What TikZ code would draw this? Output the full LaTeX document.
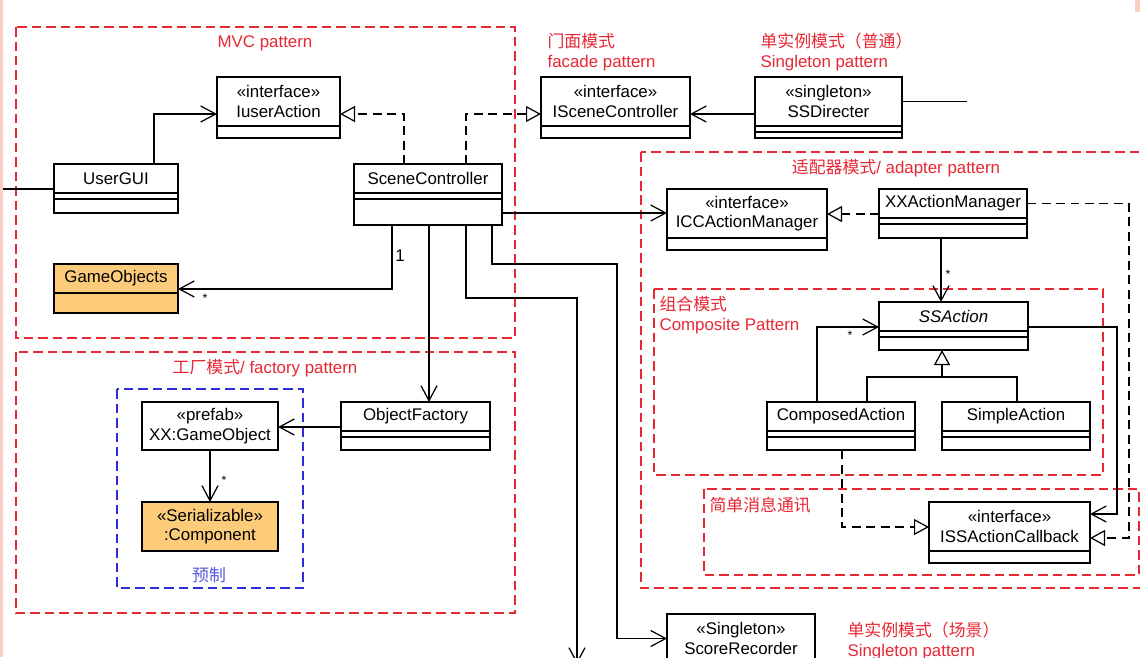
\documentclass[tikz,border=0pt]{standalone}
\usepackage{fontspec}
\setmainfont{Liberation Sans}
\newfontfamily\cjk{Noto Sans CJK SC}
\usetikzlibrary{arrows.meta, calc}
\definecolor{patred}{RGB}{232,40,52}
\definecolor{prefabblue}{RGB}{45,45,215}
\definecolor{objorange}{RGB}{252,204,122}
\definecolor{edgepink}{RGB}{250,205,195}
% extra compartment under a class name box: node, offset, height (px)
\newcommand{\umlpart}[4][white]{%
  \draw[fill=#1] ($(#2.south west)+(0,#3)$) rectangle ($(#2.south east)+(0,#3+#4)$);}

\begin{document}
\begin{tikzpicture}[x=0.02cm, y=-0.02cm, line width=0.7pt,
  every node/.style={font=\fontsize{9.6}{11}\selectfont},
  cls/.style 2 args={draw, fill=white, outer sep=0pt, inner sep=1pt, align=center, anchor=north west,
    minimum width={#1*0.02cm}, minimum height={#2*0.02cm}},
  pattern box/.style={draw=patred, line width=0.9pt, dash pattern=on 1.9mm off 1mm},
  prefab box/.style={draw=prefabblue, line width=0.9pt, dash pattern=on 1.9mm off 1mm},
  patlabel/.style={text=patred, inner sep=0pt},
  mult/.style={font=\fontsize{7}{8}\selectfont, inner sep=0pt},
  assoc/.style={-{Straight Barb[length=3mm, width=3.2mm]}},
  realize/.style={dash pattern=on 1.8mm off 1.1mm, -{Triangle[open, length=3mm, width=3.2mm, fill=white]}},
  inherit/.style={-{Triangle[open, length=3mm, width=3.2mm, fill=white]}}]

  \useasboundingbox (0,0) rectangle (1140,657);
  \fill[white] (0,0) rectangle (1140,657);
  \fill[edgepink] (0,0) rectangle (3,657);
  \fill[edgepink] (1135,0) rectangle (1140,12);

  % pattern groups
  \draw[pattern box] (16,27) rectangle (515,338);
  \draw[pattern box] (16,352) rectangle (515,613);
  \draw[prefab box] (117,389) rectangle (303,588);
  \draw[pattern box] (641,152) rectangle (1150,588);
  \draw[pattern box] (654,289) rectangle (1103,475);
  \draw[pattern box] (704,489) rectangle (1139,575);

  \node[patlabel] (mvclbl) at (265,43) {MVC pattern};
  \node[patlabel] (factorylbl) at (265,368) {{\cjk 工厂模式}/ factory pattern};
  \node[text=prefabblue!80, inner sep=0pt] (prefablbl) at (209,575) {\cjk 预制};
  \node[patlabel, anchor=west, align=left] (facadelbl) at (547,52) {{\cjk 门面模式}\\facade pattern};
  \node[patlabel, anchor=west, align=left] (singlelbl) at (760,52) {{\cjk 单实例模式（普通）}\\Singleton pattern};
  \node[patlabel] (adapterlbl) at (896,168) {{\cjk 适配器模式}/ adapter pattern};
  \node[patlabel, anchor=west, align=left] (compositelbl) at (659,315) {{\cjk 组合模式}\\Composite Pattern};
  \node[patlabel, anchor=west] (msglbl) at (709,505) {\cjk 简单消息通讯};
  \node[patlabel, anchor=west, align=left] (scenesinglbl) at (847,641) {{\cjk 单实例模式（场景）}\\Singleton pattern};

  % classes
  \node[cls={123}{49}] (iuseraction) at (217,77) {«interface»\\IuserAction};
  \umlpart{iuseraction}{0}{12}
  \node[cls={124}{29}] (usergui) at (54,164) {UserGUI};
  \umlpart{usergui}{0}{6} \umlpart{usergui}{6}{14}
  \node[cls={148}{29}] (scenectrl) at (354,164) {SceneController};
  \umlpart{scenectrl}{0}{6} \umlpart{scenectrl}{6}{26}
  \node[cls={124}{29}, fill=objorange] (gameobjects) at (54,264) {GameObjects};
  \umlpart[objorange]{gameobjects}{0}{20}
  \node[cls={149}{49}] (iscenectrl) at (541,77) {«interface»\\ISceneController};
  \umlpart{iscenectrl}{0}{12}
  \node[cls={147}{49}] (ssdirecter) at (755,77) {«singleton»\\SSDirecter};
  \umlpart{ssdirecter}{0}{6} \umlpart{ssdirecter}{6}{6}
  \node[cls={160}{49}] (iccam) at (667,189) {«interface»\\ICCActionManager};
  \umlpart{iccam}{0}{12}
  \node[cls={148}{29}] (xxam) at (879,189) {XXActionManager};
  \umlpart{xxam}{0}{6} \umlpart{xxam}{6}{14}
  \node[cls={149}{29}] (ssaction) at (879,302) {\textit{SSAction}};
  \umlpart{ssaction}{0}{6} \umlpart{ssaction}{6}{13}
  \node[cls={148}{29}] (composed) at (767,402) {ComposedAction};
  \umlpart{composed}{0}{6} \umlpart{composed}{6}{13}
  \node[cls={148}{29}] (simple) at (942,402) {SimpleAction};
  \umlpart{simple}{0}{6} \umlpart{simple}{6}{13}
  \node[cls={161}{49}] (isscallback) at (929,502) {«interface»\\ISSActionCallback};
  \umlpart{isscallback}{0}{12}
  \node[cls={149}{29}] (objfactory) at (341,402) {ObjectFactory};
  \umlpart{objfactory}{0}{6} \umlpart{objfactory}{6}{13}
  \node[cls={136}{48}] (xxgameobj) at (142,402) {«prefab»\\XX:GameObject};
  \node[cls={136}{49}, fill=objorange] (component) at (142,502) {«Serializable»\\:Component};
  \node[cls={148}{49}] (scorerec) at (667,614) {«Singleton»\\ScoreRecorder};

  \coordinate (guiin) at (3,189);
  \coordinate (ssdout) at (967,101.5);
  \coordinate (outdown) at (577,664);
  \coordinate (genjoin) at (942,377);

  % MVC
  \draw (guiin) -- (guiin -| usergui.west);
  \draw[assoc] ($(usergui.north west)+(100,0)$) |- ($(iuseraction.south west)+(0,-12)$);
  \draw[realize] ($(scenectrl.north west)+(50,0)$) |- ($(iuseraction.south east)+(0,-12)$);
  \draw[realize] ($(scenectrl.north west)+(112,0)$) |- ($(iscenectrl.south west)+(0,-12)$);
  \draw[assoc] ($(scenectrl.south west)+(38,32)$) |- ($(gameobjects.south east)+(0,-4)$);
  \node[inner sep=0pt] (onelbl) at (400,256) {1};
  \node[mult] (manygo) at (205,298) {*};

  % facade / singleton
  \draw[assoc] ($(ssdirecter.south west)+(0,-12)$) -- ($(iscenectrl.south east)+(0,-12)$);
  \draw (ssdirecter.east) -- (ssdout);

  % factory
  \draw[assoc] ($(scenectrl.south west)+(75,32)$) coordinate (sc2of) -- (sc2of |- objfactory.north);
  \draw[assoc] ($(objfactory.south west)+(0,-4)$) coordinate (of2go) -- (of2go -| xxgameobj.east);
  \draw[assoc] ($(xxgameobj.south west)+(68,0)$) -- ($(component.north west)+(68,0)$);
  \node[mult] (manycomp) at (224,480) {*};

  % scene to the right and below
  \draw[assoc] ($(scenectrl.south west)+(112,32)$) -- ++(0,73) -| (outdown);
  \draw[assoc] ($(scenectrl.south west)+(138,32)$) -- ++(0,39) -- ++(125,0) |- (scorerec.west);
  \draw[assoc] ($(scenectrl.south east)+(0,20)$) coordinate (sc2icc) -- (sc2icc -| iccam.west);

  % adapter
  \draw[realize] ($(xxam.south west)+(0,-4)$) coordinate (xxl) -- (xxl -| iccam.east);
  \draw[realize] (xxam.east) -- ++(102,0) |- ($(isscallback.south east)+(0,-13)$);
  \draw[assoc] ($(xxam.south west)+(62,20)$) coordinate (xx2ss) -- (xx2ss |- ssaction.north);
  \node[mult] (manyss) at (948,274) {*};

  % composite
  \draw[assoc] ($(composed.north west)+(50,0)$) |- ($(ssaction.south west)+(0,-4)$);
  \node[mult] (manysub) at (850,335) {*};
  \draw ($(composed.north west)+(100,0)$) |- ($(simple.north west)+(75,-25)$) -- ($(simple.north west)+(75,0)$);
  \draw[inherit] (genjoin) -- ($(ssaction.south west)+(63,19)$);

  % callback
  \draw[assoc] ($(ssaction.south east)+(0,-4)$) -- ++(89,0) |- ($(isscallback.south east)+(0,-37)$);
  \draw[realize] ($(composed.south west)+(75,19)$) |- ($(isscallback.south west)+(0,-24)$);
\end{tikzpicture}
\end{document}
